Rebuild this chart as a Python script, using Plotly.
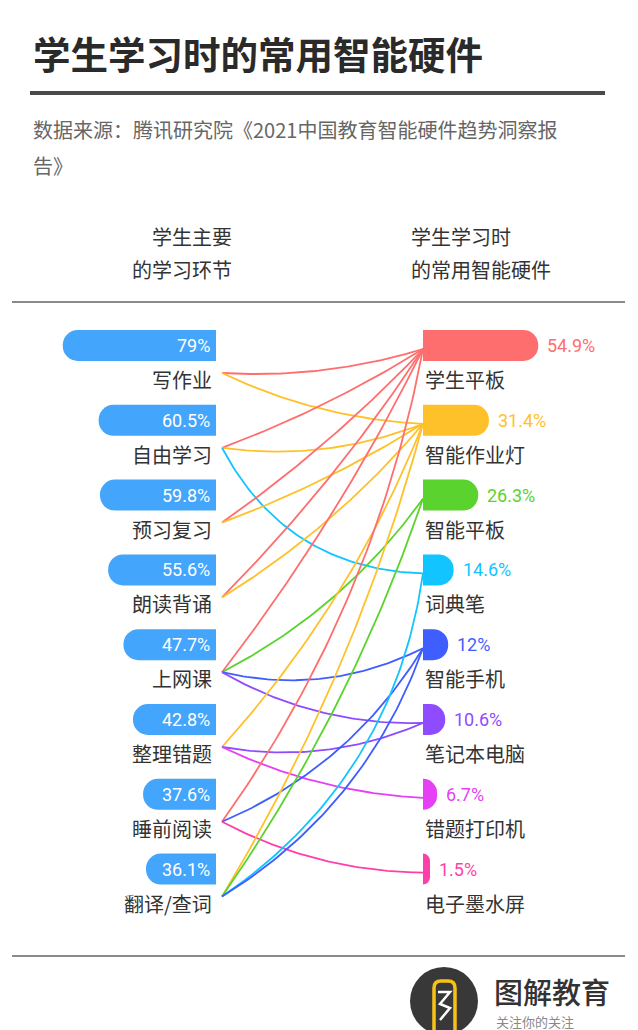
import numpy as np
import plotly.graph_objects as go

# ---------------- data ----------------
title = "学生学习时的常用智能硬件"
source_lines = ["数据来源：腾讯研究院《2021中国教育智能硬件趋势洞察报", "告》"]
left_header = ["学生主要", "的学习环节"]
right_header = ["学生学习时", "的常用智能硬件"]

stages = ["写作业", "自由学习", "预习复习", "朗读背诵", "上网课", "整理错题", "睡前阅读", "翻译/查词"]
stage_pct = [79, 60.5, 59.8, 55.6, 47.7, 42.8, 37.6, 36.1]

devices = ["学生平板", "智能作业灯", "智能平板", "词典笔", "智能手机", "笔记本电脑", "错题打印机", "电子墨水屏"]
device_pct = [54.9, 31.4, 26.3, 14.6, 12, 10.6, 6.7, 1.5]

link_src = ["写作业", "写作业",
            "自由学习", "自由学习", "自由学习",
            "预习复习", "预习复习",
            "朗读背诵", "朗读背诵",
            "上网课", "上网课", "上网课", "上网课",
            "整理错题", "整理错题", "整理错题",
            "睡前阅读", "睡前阅读", "睡前阅读",
            "翻译/查词", "翻译/查词", "翻译/查词", "翻译/查词"]
link_dst = ["学生平板", "智能作业灯",
            "学生平板", "智能作业灯", "词典笔",
            "学生平板", "智能作业灯",
            "学生平板", "智能作业灯",
            "学生平板", "智能平板", "智能手机", "笔记本电脑",
            "智能作业灯", "笔记本电脑", "错题打印机",
            "学生平板", "智能手机", "电子墨水屏",
            "智能作业灯", "智能平板", "词典笔", "智能手机"]

brand = "图解教育"
brand_sub = "关注你的关注"

# ---------------- styles ----------------
W, H = 638, 1030
CJK = "Noto Sans CJK SC"
NUM = "Roboto, Noto Sans CJK SC"
LEFT_BLUE = "#44A5FC"
DEVICE_COLORS = ["#FF6E6E", "#FFC12A", "#5BD32E", "#12C4FF",
                 "#3F5EFF", "#8E4BFF", "#E540F5", "#FF3FA9"]
# bend of each link curve (style only)
LINK_BEND = [0.09, 0.10, 0.05, 0.13, 0.29, 0.05, 0.05, 0.05, 0.08,
             0.05, 0.12, 0.18, 0.14, 0.09, 0.15, 0.10, 0.11, 0.16, 0.12,
             0.07, 0.07, 0.22, 0.175]

ROW0, ROW_STEP, BAR_H = 345.5, 74.8, 31
LEFT_END, RIGHT_START = 216, 423
LEFT_SCALE, RIGHT_SCALE = 1.94, 2.1  # px per percent
MIN_BAR_PX = 7
NODE_L_X, NODE_R_X = 222, 423

row_y = [ROW0 + ROW_STEP * i for i in range(len(stages))]
dev_y = [ROW0 + ROW_STEP * i for i in range(len(devices))]
dev_bar_len = [max(v, MIN_BAR_PX / RIGHT_SCALE) for v in device_pct]

fig = go.Figure()

# bars
fig.add_trace(go.Bar(x=stage_pct, y=row_y, orientation="h", width=BAR_H,
                     marker=dict(color=LEFT_BLUE, cornerradius=15, line=dict(width=0)),
                     xaxis="x2", yaxis="y", hoverinfo="skip", showlegend=False))
fig.add_trace(go.Bar(x=dev_bar_len, y=dev_y, orientation="h", width=BAR_H,
                     marker=dict(color=DEVICE_COLORS, cornerradius=15, line=dict(width=0)),
                     xaxis="x3", yaxis="y", hoverinfo="skip", showlegend=False))

# links
t = np.linspace(0, 1, 60)
for k, (s, d) in enumerate(zip(link_src, link_dst)):
    i = stages.index(s)
    j = devices.index(d)
    p0 = np.array([NODE_L_X, row_y[i] + 27.5])
    p2 = np.array([NODE_R_X, dev_y[j] + 3.5])
    dv = p2 - p0
    L = np.hypot(*dv)
    n = np.array([-dv[1], dv[0]]) / L
    c = (p0 + p2) / 2 + LINK_BEND[k] * L * n
    pts = ((1 - t) ** 2)[:, None] * p0 + (2 * t * (1 - t))[:, None] * c + (t ** 2)[:, None] * p2
    fig.add_trace(go.Scatter(x=pts[:, 0], y=pts[:, 1], mode="lines",
                             line=dict(color=DEVICE_COLORS[j], width=1.8),
                             hoverinfo="skip", showlegend=False, xaxis="x", yaxis="y"))

ann = []
# title
ann.append(dict(x=31, y=52, text=title, xanchor="left", yanchor="middle", showarrow=False,
                font=dict(family=CJK, size=37.5, color="#2A2A2A", weight="bold")))
for li, line in enumerate(source_lines):
    ann.append(dict(x=31, y=129 + 36 * li, text=line, xanchor="left", yanchor="middle",
                    showarrow=False, font=dict(family=CJK, size=20, color="#666666")))
for li, line in enumerate(left_header):
    ann.append(dict(x=234, y=236 + 33 * li, text=line, xanchor="right", yanchor="middle",
                    showarrow=False, font=dict(family=CJK, size=20, color="#333333")))
for li, line in enumerate(right_header):
    ann.append(dict(x=409, y=236 + 33 * li, text=line, xanchor="left", yanchor="middle",
                    showarrow=False, font=dict(family=CJK, size=20, color="#333333")))

for i, (name, v) in enumerate(zip(stages, stage_pct)):
    ann.append(dict(x=0, xref="x2", y=row_y[i], text=f"{v:g}%", xanchor="right", xshift=-4,
                    yanchor="middle", showarrow=False,
                    font=dict(family=NUM, size=18, color="white")))
    ann.append(dict(x=LEFT_END - 2, y=row_y[i] + 34, text=name, xanchor="right", yanchor="middle",
                    showarrow=False, font=dict(family=CJK, size=20, color="#333333")))

for j, (name, v) in enumerate(zip(devices, device_pct)):
    ann.append(dict(x=dev_bar_len[j], xref="x3", y=dev_y[j], text=f"{v:g}%", xanchor="left", xshift=7,
                    yanchor="middle", showarrow=False,
                    font=dict(family=NUM, size=18, color=DEVICE_COLORS[j])))
    ann.append(dict(x=RIGHT_START, y=dev_y[j] + 34, text=name, xanchor="left", yanchor="middle",
                    showarrow=False, font=dict(family=CJK, size=20, color="#333333")))

# brand
ann.append(dict(x=492, y=991, text=brand, xanchor="left", yanchor="middle", showarrow=False,
                font=dict(family=CJK, size=29, color="#333333", weight=500)))
ann.append(dict(x=494, y=1021, text=brand_sub, xanchor="left", yanchor="middle", showarrow=False,
                font=dict(family=CJK, size=13, color="#888888")))

shapes = [
    dict(type="line", x0=30, x1=605, y0=93, y1=93, xref="x", yref="y",
         line=dict(color="#4A4A4A", width=4)),
    dict(type="line", x0=12, x1=625, y0=302, y1=302, xref="x", yref="y",
         line=dict(color="#8A8A8A", width=2)),
    dict(type="line", x0=12, x1=625, y0=956, y1=956, xref="x", yref="y",
         line=dict(color="#8A8A8A", width=2)),
    dict(type="circle", x0=410, x1=478, y0=967, y1=1035, xref="x", yref="y",
         fillcolor="#383838", line=dict(width=0)),
    dict(type="path", xref="x", yref="y",
         path="M 434 1032 L 434 988 Q 434 981 441 981 L 448 981 Q 455 981 455 988 L 455 1032",
         line=dict(color="#F6C21A", width=3.5)),
    dict(type="path", xref="x", yref="y",
         path="M 438 992 L 450 992 L 440 1004 L 450 1008 L 440 1020",
         line=dict(color="#FFFFFF", width=2.5)),
]

ax_common = dict(visible=False, showgrid=False, zeroline=False, fixedrange=True)
fig.update_layout(
    width=W, height=H, autosize=False,
    margin=dict(l=0, r=0, t=0, b=0, pad=0),
    paper_bgcolor="white", plot_bgcolor="rgba(0,0,0,0)",
    barmode="overlay", showlegend=False,
    xaxis=dict(range=[0, W], domain=[0, 1], **ax_common),
    yaxis=dict(range=[H, 0], domain=[0, 1], **ax_common),
    xaxis2=dict(range=[LEFT_END / LEFT_SCALE, 0], domain=[0, LEFT_END / W], anchor="y", **ax_common),
    xaxis3=dict(range=[0, (W - RIGHT_START) / RIGHT_SCALE], domain=[RIGHT_START / W, 1], anchor="y", **ax_common),
    annotations=ann, shapes=shapes,
)

fig.write_html("out.html")
